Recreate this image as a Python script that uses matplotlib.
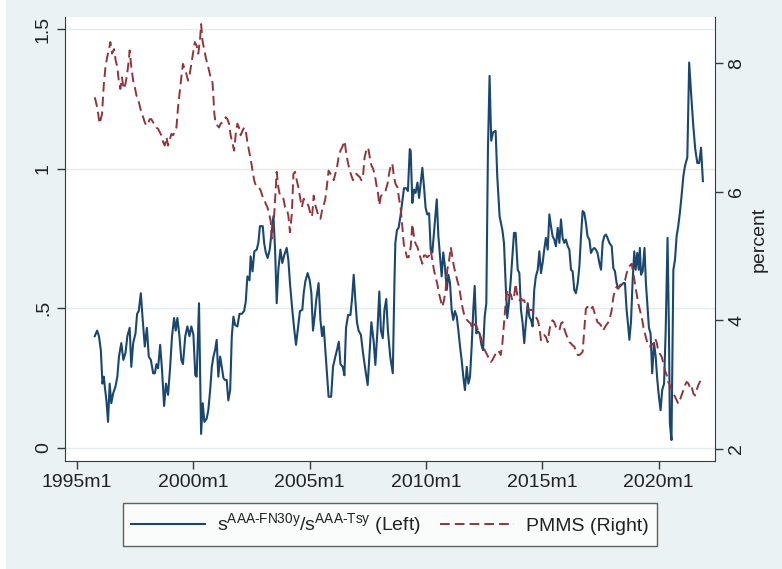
"""Spread ratio vs PMMS mortgage rate, Stata-style twin-axis chart."""

import matplotlib
matplotlib.use("Agg")
import matplotlib.pyplot as plt
from matplotlib.patches import Rectangle

plt.rcParams["font.family"] = ["Liberation Sans", "DejaVu Sans"]
plt.rcParams["mathtext.fontset"] = "custom"
plt.rcParams["mathtext.rm"] = "Liberation Sans"
plt.rcParams["mathtext.default"] = "regular"

# ratio s^{AAA-FN30y}/s^{AAA-Tsy}, left axis
blue_dates = [
    1995.76, 1995.86, 1995.94, 1996.02, 1996.09, 1996.15, 1996.19, 1996.26, 1996.33, 1996.40,
    1996.47, 1996.55, 1996.65, 1996.73, 1996.80, 1996.90, 1996.99, 1997.08, 1997.16, 1997.26,
    1997.33, 1997.41, 1997.51, 1997.58, 1997.65, 1997.74, 1997.81, 1997.91, 1998.00, 1998.08,
    1998.17, 1998.27, 1998.34, 1998.41, 1998.48, 1998.57, 1998.65, 1998.74, 1998.82, 1998.91,
    1999.00, 1999.08, 1999.17, 1999.24, 1999.31, 1999.40, 1999.48, 1999.55, 1999.65, 1999.74,
    1999.83, 1999.91, 2000.00, 2000.08,
    2000.14, 2000.24, 2000.33, 2000.40, 2000.47, 2000.57, 2000.64, 2000.72, 2000.79, 2000.86,
    2000.93, 2001.00, 2001.07, 2001.15, 2001.22, 2001.29, 2001.36, 2001.43, 2001.50, 2001.58,
    2001.65, 2001.72, 2001.79, 2001.89, 2001.98, 2002.08, 2002.18, 2002.25, 2002.32, 2002.41,
    2002.46, 2002.54, 2002.62, 2002.72, 2002.79, 2002.86, 2002.98, 2003.04, 2003.11, 2003.19,
    2003.28, 2003.37, 2003.44, 2003.51, 2003.58, 2003.65, 2003.74, 2003.82, 2003.91, 2004.01,
    2004.08, 2004.15, 2004.25, 2004.34, 2004.41, 2004.48, 2004.58, 2004.68,
    2004.74, 2004.81, 2004.91, 2005.00, 2005.07, 2005.14, 2005.21, 2005.28, 2005.38, 2005.46,
    2005.53, 2005.60, 2005.67, 2005.74, 2005.81, 2005.92, 2006.00, 2006.10, 2006.17, 2006.25,
    2006.32, 2006.42, 2006.49, 2006.56, 2006.65, 2006.75, 2006.82, 2006.89, 2006.96, 2007.03,
    2007.10, 2007.20, 2007.29, 2007.39, 2007.49, 2007.58, 2007.65, 2007.75, 2007.82, 2007.91,
    2007.99, 2008.06, 2008.14, 2008.21, 2008.29, 2008.36, 2008.46, 2008.57, 2008.64, 2008.68,
    2008.75, 2008.82, 2008.90, 2008.97, 2009.05, 2009.14, 2009.22, 2009.30,
    2009.34, 2009.41, 2009.48, 2009.55, 2009.63, 2009.70, 2009.77, 2009.84, 2009.91, 2009.98,
    2010.05, 2010.13, 2010.20, 2010.27, 2010.34, 2010.46, 2010.53, 2010.60, 2010.67, 2010.74,
    2010.81, 2010.89, 2010.96, 2011.03, 2011.10, 2011.17, 2011.24, 2011.32, 2011.39, 2011.46,
    2011.53, 2011.60, 2011.67, 2011.75, 2011.82, 2011.89, 2011.96, 2012.03, 2012.09, 2012.16,
    2012.23, 2012.30, 2012.38, 2012.45, 2012.52, 2012.59, 2012.66, 2012.73, 2012.80, 2012.88,
    2012.99, 2013.06, 2013.16, 2013.28, 2013.35, 2013.42, 2013.49, 2013.56, 2013.64, 2013.71,
    2013.78, 2013.85,
    2013.94, 2014.01, 2014.08, 2014.15, 2014.22, 2014.29, 2014.37, 2014.44, 2014.51, 2014.58,
    2014.65, 2014.72, 2014.80, 2014.87, 2014.94, 2015.01, 2015.08, 2015.15, 2015.23, 2015.30,
    2015.37, 2015.44, 2015.51, 2015.58, 2015.66, 2015.73, 2015.80, 2015.87, 2015.94, 2016.01,
    2016.09, 2016.16, 2016.23, 2016.30, 2016.37, 2016.44, 2016.52, 2016.59, 2016.66, 2016.73,
    2016.80, 2016.87, 2016.94, 2017.02, 2017.09, 2017.16, 2017.23, 2017.30, 2017.37, 2017.45,
    2017.52, 2017.59, 2017.66, 2017.73, 2017.80, 2017.88,
    2017.98, 2018.05, 2018.12, 2018.19, 2018.26, 2018.33, 2018.41, 2018.48, 2018.55, 2018.62,
    2018.69, 2018.74, 2018.81, 2018.88, 2018.95, 2019.01, 2019.08, 2019.14, 2019.19, 2019.24,
    2019.31, 2019.39, 2019.45, 2019.52, 2019.58, 2019.65, 2019.72, 2019.80, 2019.87, 2019.94,
    2020.01, 2020.08, 2020.15, 2020.23, 2020.30, 2020.38, 2020.44, 2020.48, 2020.55, 2020.63,
    2020.70, 2020.77, 2020.84, 2020.91, 2020.98, 2021.06, 2021.13, 2021.23, 2021.31, 2021.40,
    2021.49, 2021.57, 2021.66, 2021.74, 2021.82, 2021.90,
]
blue_vals = [
    0.40, 0.42, 0.40, 0.35, 0.23, 0.255, 0.22, 0.17, 0.093, 0.23,
    0.16, 0.195, 0.22, 0.255, 0.327, 0.375, 0.315, 0.34, 0.40, 0.43,
    0.29, 0.375, 0.41, 0.48, 0.49, 0.554, 0.47, 0.363, 0.43, 0.327,
    0.315, 0.267, 0.267, 0.30, 0.285, 0.369, 0.28, 0.15, 0.23, 0.19,
    0.29, 0.40, 0.465, 0.42, 0.465, 0.40, 0.315, 0.30, 0.40, 0.435,
    0.40, 0.435, 0.405, 0.26,
    0.255, 0.518, 0.05, 0.16, 0.093, 0.105, 0.135, 0.207, 0.29, 0.327,
    0.35, 0.387, 0.255, 0.327, 0.29, 0.25, 0.243, 0.243, 0.17, 0.207,
    0.40, 0.47, 0.44, 0.435, 0.48, 0.48, 0.49, 0.524, 0.614, 0.60,
    0.686, 0.632, 0.704, 0.71, 0.734, 0.794, 0.794, 0.734, 0.70, 0.68,
    0.71, 0.78, 0.83, 0.71, 0.518, 0.638, 0.71, 0.662, 0.692, 0.716,
    0.674, 0.59, 0.494, 0.42, 0.369, 0.42, 0.49, 0.494,
    0.554, 0.596, 0.626, 0.60, 0.554, 0.42, 0.47, 0.53, 0.59, 0.458,
    0.40, 0.435, 0.35, 0.26, 0.183, 0.183, 0.29, 0.327, 0.35, 0.38,
    0.30, 0.29, 0.26, 0.43, 0.476, 0.476, 0.536, 0.62, 0.53, 0.45,
    0.42, 0.405, 0.34, 0.28, 0.225, 0.35, 0.45, 0.38, 0.297, 0.42,
    0.56, 0.42, 0.393, 0.494, 0.533, 0.42, 0.327, 0.267, 0.59, 0.734,
    0.78, 0.788, 0.83, 0.877, 0.93, 0.93, 0.92, 1.07,
    1.063, 0.877, 0.925, 0.913, 0.95, 0.895, 0.95, 1.003, 0.937, 0.86,
    0.836, 0.84, 0.71, 0.70, 0.77, 0.89, 0.758, 0.686, 0.614, 0.70,
    0.65, 0.566, 0.62, 0.59, 0.494, 0.458, 0.49, 0.47, 0.42, 0.363,
    0.315, 0.255, 0.207, 0.29, 0.23, 0.255, 0.363, 0.494, 0.58, 0.41,
    0.417, 0.41, 0.369, 0.35, 0.47, 0.518, 1.07, 1.332, 1.10, 1.13,
    1.135, 0.973, 0.83, 0.78, 0.734, 0.59, 0.465, 0.518, 0.60, 0.686,
    0.77, 0.77,
    0.638, 0.626, 0.494, 0.447, 0.375, 0.447, 0.518, 0.47, 0.458, 0.435,
    0.566, 0.614, 0.638, 0.704, 0.626, 0.662, 0.71, 0.752, 0.71, 0.836,
    0.794, 0.758, 0.746, 0.722, 0.788, 0.734, 0.818, 0.752, 0.734, 0.746,
    0.722, 0.71, 0.638, 0.632, 0.566, 0.554, 0.59, 0.65, 0.758, 0.848,
    0.842, 0.806, 0.758, 0.746, 0.698, 0.71, 0.716, 0.71, 0.698, 0.662,
    0.638, 0.734, 0.758, 0.764, 0.752, 0.734,
    0.722, 0.644, 0.632, 0.59, 0.572, 0.578, 0.584, 0.59, 0.59, 0.494,
    0.435, 0.387, 0.453, 0.60, 0.704, 0.638, 0.698, 0.638, 0.716, 0.62,
    0.632, 0.716, 0.59, 0.506, 0.43, 0.41, 0.267, 0.375, 0.327, 0.243,
    0.183, 0.135, 0.207, 0.23, 0.42, 0.752, 0.42, 0.087, 0.028, 0.638,
    0.674, 0.758, 0.794, 0.842, 0.90, 0.973, 1.01, 1.04, 1.38, 1.26,
    1.15, 1.07, 1.02, 1.02, 1.075, 0.955,
]

# PMMS 30y mortgage rate (percent), right axis
red_dates = [
    1995.76, 1995.86, 1995.97, 1996.07, 1996.15, 1996.22, 1996.29, 1996.36, 1996.43, 1996.50,
    1996.59, 1996.66, 1996.73, 1996.79, 1996.86, 1996.93, 1997.00, 1997.08, 1997.15, 1997.22,
    1997.26, 1997.33, 1997.41, 1997.48, 1997.55, 1997.62, 1997.69, 1997.76, 1997.84, 1997.91,
    1997.98, 1998.05, 1998.12, 1998.19, 1998.27, 1998.34, 1998.41, 1998.48, 1998.55, 1998.62,
    1998.70, 1998.77, 1998.84, 1998.91, 1998.98, 1999.05, 1999.13, 1999.20, 1999.27, 1999.34,
    1999.41, 1999.48, 1999.55, 1999.63, 1999.70, 1999.77, 1999.84, 1999.91, 1999.98, 2000.06,
    2000.14, 2000.21, 2000.29, 2000.33, 2000.39, 2000.46, 2000.53, 2000.60, 2000.67, 2000.74,
    2000.82, 2000.86, 2000.90, 2000.96, 2001.03, 2001.10, 2001.17, 2001.25, 2001.32, 2001.39,
    2001.46, 2001.53, 2001.60, 2001.68, 2001.75, 2001.82, 2001.89, 2001.96, 2002.03, 2002.11,
    2002.18, 2002.25, 2002.32, 2002.39, 2002.46, 2002.54, 2002.61, 2002.68, 2002.75, 2002.82,
    2002.89, 2002.96, 2003.04, 2003.11, 2003.18, 2003.25, 2003.32, 2003.37, 2003.44, 2003.51,
    2003.58, 2003.65, 2003.72, 2003.80, 2003.87, 2003.94, 2004.01, 2004.08, 2004.15, 2004.23,
    2004.30, 2004.37, 2004.44, 2004.51, 2004.58, 2004.66,
    2004.74, 2004.81, 2004.88, 2004.96, 2005.03, 2005.10, 2005.17, 2005.24, 2005.31, 2005.38,
    2005.46, 2005.53, 2005.60, 2005.67, 2005.74, 2005.81, 2005.89, 2005.96, 2006.03, 2006.10,
    2006.17, 2006.24, 2006.32, 2006.39, 2006.46, 2006.50, 2006.57, 2006.65, 2006.72, 2006.79,
    2006.86, 2006.93, 2007.00, 2007.08, 2007.15, 2007.22, 2007.29, 2007.36, 2007.43, 2007.51,
    2007.58, 2007.65, 2007.72, 2007.79, 2007.86, 2007.93, 2007.99, 2008.05, 2008.12, 2008.19,
    2008.26, 2008.34, 2008.41, 2008.48, 2008.55, 2008.62, 2008.69, 2008.77, 2008.84, 2008.91,
    2008.97, 2009.04, 2009.11, 2009.18, 2009.25,
    2009.34, 2009.41, 2009.48, 2009.55, 2009.63, 2009.70, 2009.77, 2009.84, 2009.91, 2009.98,
    2010.05, 2010.13, 2010.20, 2010.27, 2010.34, 2010.41, 2010.48, 2010.56, 2010.63, 2010.70,
    2010.77, 2010.84, 2010.91, 2010.99, 2011.06, 2011.13, 2011.20, 2011.27, 2011.34, 2011.42,
    2011.49, 2011.56, 2011.63, 2011.70, 2011.77, 2011.85, 2011.92, 2011.99, 2012.06, 2012.13,
    2012.20, 2012.28, 2012.35, 2012.42, 2012.49, 2012.56, 2012.63, 2012.71, 2012.78, 2012.85,
    2012.92, 2012.99, 2013.06, 2013.14, 2013.21, 2013.28, 2013.35, 2013.42, 2013.49, 2013.56,
    2013.64, 2013.71, 2013.78, 2013.85,
    2013.94, 2014.01, 2014.08, 2014.15, 2014.22, 2014.29, 2014.37, 2014.44, 2014.51, 2014.58,
    2014.65, 2014.72, 2014.80, 2014.87, 2014.94, 2015.01, 2015.08, 2015.15, 2015.23, 2015.30,
    2015.37, 2015.44, 2015.51, 2015.58, 2015.66, 2015.73, 2015.80, 2015.87, 2015.94, 2016.01,
    2016.09, 2016.16, 2016.23, 2016.30, 2016.37, 2016.44, 2016.52, 2016.59, 2016.66, 2016.73,
    2016.80, 2016.87, 2016.94, 2017.02, 2017.09, 2017.16, 2017.23, 2017.30, 2017.37, 2017.45,
    2017.52, 2017.59, 2017.66, 2017.73, 2017.80, 2017.88,
    2017.98, 2018.05, 2018.12, 2018.19, 2018.26, 2018.33, 2018.41, 2018.48, 2018.55, 2018.62,
    2018.69, 2018.76, 2018.84, 2018.91, 2018.98, 2019.05, 2019.12, 2019.19, 2019.27, 2019.34,
    2019.41, 2019.48, 2019.55, 2019.62, 2019.70, 2019.77, 2019.84, 2019.91, 2019.98, 2020.05,
    2020.13, 2020.20, 2020.27, 2020.34, 2020.41, 2020.48, 2020.56, 2020.63, 2020.70, 2020.77,
    2020.84, 2020.91, 2020.98, 2021.06, 2021.13, 2021.20, 2021.27, 2021.34, 2021.40, 2021.49,
    2021.56, 2021.63, 2021.70, 2021.77, 2021.84, 2021.92,
]
red_vals = [
    7.47, 7.32, 7.06, 7.21, 7.68, 7.94, 8.09, 8.20, 8.33, 8.15,
    8.22, 8.04, 7.94, 7.73, 7.60, 7.78, 7.60, 7.68, 7.83, 8.04,
    8.20, 7.94, 7.73, 7.63, 7.50, 7.45, 7.34, 7.24, 7.16, 7.08,
    7.03, 7.06, 7.13, 7.13, 7.08, 7.06, 7.00, 6.98, 6.93, 6.88,
    6.77, 6.72, 6.85, 6.72, 6.80, 6.90, 6.88, 6.95, 7.00, 7.32,
    7.55, 7.78, 7.99, 7.91, 7.83, 7.73, 7.83, 7.99, 8.15, 8.33,
    8.27, 8.15, 8.40, 8.61, 8.35, 8.22, 8.09, 7.99, 7.89, 7.78,
    7.70, 7.47, 7.21, 7.06, 7.03, 7.00, 7.06, 7.08, 7.13, 7.16,
    7.13, 7.06, 6.88, 6.75, 6.64, 6.90, 7.06, 7.00, 6.88, 6.95,
    7.00, 6.95, 6.77, 6.64, 6.51, 6.33, 6.18, 6.10, 6.10, 6.07,
    6.02, 5.94, 5.89, 5.81, 5.76, 5.66, 5.55, 5.27, 5.45, 5.87,
    6.31, 6.07, 5.94, 5.92, 5.89, 5.76, 5.74, 5.63, 5.37, 5.66,
    6.28, 6.31, 6.18, 6.07, 5.92, 5.76,
    5.89, 5.87, 5.84, 5.76, 5.66, 5.61, 5.94, 5.79, 5.71, 5.61,
    5.58, 5.71, 5.79, 5.89, 6.10, 6.33, 6.28, 6.23, 6.18, 6.28,
    6.38, 6.54, 6.64, 6.69, 6.75, 6.79, 6.59, 6.44, 6.33, 6.25,
    6.18, 6.23, 6.28, 6.25, 6.23, 6.18, 6.25, 6.54, 6.64, 6.69,
    6.54, 6.41, 6.36, 6.28, 6.12, 5.99, 5.79, 5.92, 5.97, 5.99,
    6.02, 6.12, 6.28, 6.41, 6.44, 6.23, 6.12, 6.07, 5.89, 5.74,
    5.50, 5.19, 5.09, 4.98, 4.98,
    5.14, 5.50, 5.30, 5.19, 5.14, 5.04, 4.96, 4.88, 5.01, 5.01,
    4.98, 5.01, 5.09, 4.93, 4.78, 4.67, 4.57, 4.41, 4.31, 4.21,
    4.31, 4.47, 4.78, 4.93, 5.14, 4.98, 4.83, 4.73, 4.62, 4.52,
    4.36, 4.21, 4.10, 4.05, 4.00, 3.97, 3.95, 3.87, 3.92, 3.95,
    3.87, 3.82, 3.74, 3.64, 3.56, 3.51, 3.46, 3.40, 3.35, 3.38,
    3.43, 3.48, 3.53, 3.51, 3.46, 3.64, 3.95, 4.26, 4.47, 4.39,
    4.41, 4.31, 4.36, 4.57,
    4.34, 4.31, 4.34, 4.31, 4.31, 4.21, 4.18, 4.16, 4.16, 4.16,
    4.10, 4.05, 4.00, 3.90, 3.69, 3.72, 3.77, 3.74, 3.66, 3.84,
    3.97, 4.00, 3.97, 3.90, 3.87, 3.84, 3.95, 3.97, 3.87, 3.79,
    3.72, 3.66, 3.64, 3.61, 3.59, 3.53, 3.46, 3.46, 3.48, 3.51,
    3.84, 4.18, 4.21, 4.16, 4.18, 4.21, 4.13, 4.05, 3.97, 3.95,
    3.92, 3.84, 3.87, 3.92, 3.95, 4.00,
    4.16, 4.36, 4.47, 4.52, 4.49, 4.54, 4.57, 4.60, 4.62, 4.73,
    4.80, 4.85, 4.88, 4.73, 4.57, 4.41, 4.26, 4.16, 4.05, 3.90,
    3.79, 3.69, 3.61, 3.59, 3.64, 3.61, 3.72, 3.66, 3.53, 3.48,
    3.43, 3.33, 3.22, 3.15, 3.04, 2.99, 2.91, 2.86, 2.81, 2.76,
    2.70, 2.76, 2.83, 2.91, 2.99, 3.04, 3.02, 2.96, 2.99, 2.86,
    2.83, 2.91, 2.99, 3.04, 3.09, 3.12,
]

x_ticks = [1995, 2000, 2005, 2010, 2015, 2020]
x_labels = ["1995m1", "2000m1", "2005m1", "2010m1", "2015m1", "2020m1"]
left_ticks = [0, 0.5, 1, 1.5]
left_labels = ["0", ".5", "1", "1.5"]
right_ticks = [2, 4, 6, 8]
right_labels = ["2", "4", "6", "8"]

blue_label = r"s$^{AAA\text{-}FN30y}$/s$^{AAA\text{-}Tsy}$ (Left)"
red_label = "PMMS (Right)"

BG = "#EAF2F3"
GRID = "#E3EDEF"
AXIS = "#3A3A3A"
BLUE = "#1A476F"
RED = "#90353B"

W, H = 782, 569
fig = plt.figure(figsize=(W / 100, H / 100), dpi=100)
fig.patch.set_facecolor("white")
fig.add_artist(Rectangle((6 / W, 0), 1, 1, transform=fig.transFigure,
                         facecolor=BG, edgecolor="none", zorder=-10))

ax = fig.add_axes([65 / W, 1 - 461 / H, 650 / W, 444 / H])
ax.set_facecolor("white")
ax2 = ax.twinx()

h1, = ax.plot(blue_dates, blue_vals, color=BLUE, lw=1.5)
h2, = ax2.plot(red_dates, red_vals, color=RED, lw=1.4, dashes=(5.0, 2.6))

ax.set_xlim(1994.48, 2022.42)
ax.set_ylim(-0.047, 1.543)
ax2.set_ylim(1.81, 8.72)

ax.set_xticks(x_ticks)
ax.set_xticklabels(x_labels)
ax.set_yticks(left_ticks)
ax.set_yticklabels(left_labels, rotation=90, va="center")
ax2.set_yticks(right_ticks)
ax2.set_yticklabels(right_labels, rotation=90, va="center")

ax.yaxis.grid(True, color=GRID, lw=1.0)
ax.set_axisbelow(True)

for a in (ax, ax2):
    a.tick_params(length=5.5, width=1.0, color=AXIS, labelsize=14,
                  labelcolor="#222222", pad=4)
    a.spines["top"].set_visible(False)
ax.spines["right"].set_visible(False)
ax2.spines["left"].set_visible(False)
ax2.spines["bottom"].set_visible(False)
for s in ("left", "bottom"):
    ax.spines[s].set_color(AXIS)
ax2.spines["right"].set_color(AXIS)

ax2.set_ylabel("percent", fontsize=14, color="#222222", labelpad=4)

leg = fig.legend([h1, h2], [blue_label, red_label], loc="center",
                 bbox_to_anchor=(390 / W, 1 - 524.5 / H), ncol=2,
                 frameon=True, fancybox=False, edgecolor=AXIS, fontsize=14,
                 handlelength=3.8, handletextpad=0.6, columnspacing=1.0,
                 borderpad=0.45)
leg.get_frame().set_linewidth(1.0)
for t in leg.get_texts():
    t.set_color("#222222")

fig.savefig("out.png", dpi=100, facecolor=fig.get_facecolor())
